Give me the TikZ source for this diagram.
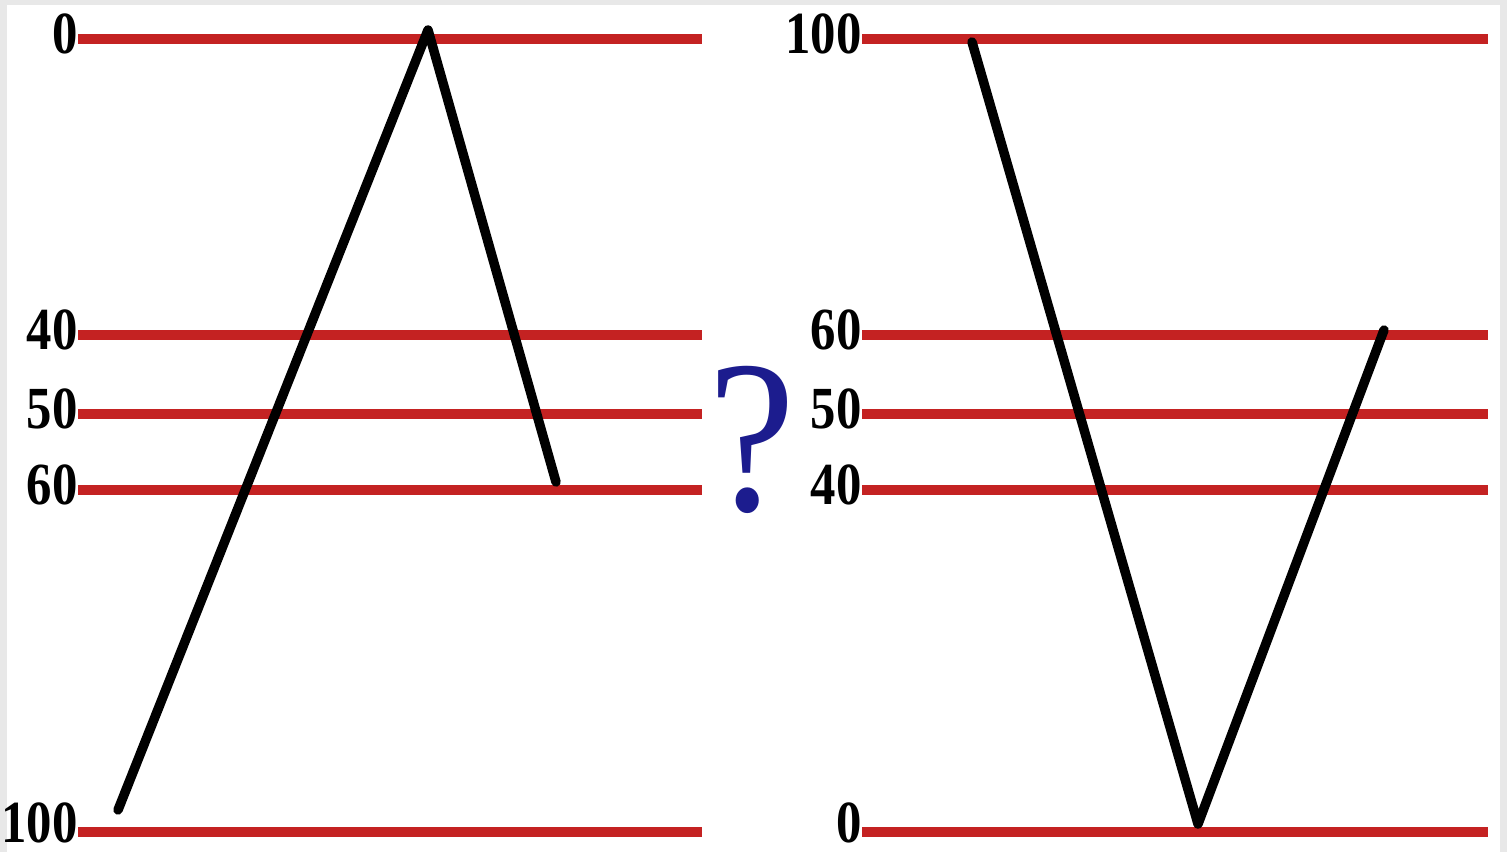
\documentclass[tikz,border=0pt]{standalone}
\usepackage{fontspec}
\setmainfont{Liberation Serif}
\usetikzlibrary{positioning}
\definecolor{barred}{HTML}{C42222}
\definecolor{qblue}{HTML}{1C1C8E}

\begin{document}
\begin{tikzpicture}[x=0.02cm, y=-0.02cm,
	every node/.style={inner sep=0pt},
	level/.style={draw=barred, line width=0.19cm},
	tick/.style={font=\fontsize{34}{34}\selectfont\bfseries, xscale=0.85, anchor=east},
	path/.style={draw=black, line width=0.19cm, line cap=round, line join=round}]
	% frame
	\fill[gray!18] (0,0) rectangle (1507,852);
	\fill[white] (7,5) rectangle (1500,852);
	\useasboundingbox (0,0) rectangle (1507,852);
	% left panel
	\foreach \y/\t/\s [count=\i] in {39/0/5, 335/40/5, 414/50/5, 490/60/5, 832/100/9} {
		\node[tick] (L\i) at (78,\y-\s) {\t};
		\coordinate (LE\i) at (702,\y);
		\draw[level] (L\i.east |- LE\i) -- (LE\i);
	}
	% right panel
	\foreach \y/\t/\s [count=\i] in {39/100/5, 335/60/5, 414/50/5, 490/40/5, 832/0/9} {
		\node[tick] (R\i) at (862,\y-\s) {\t};
		\coordinate (RE\i) at (1488,\y);
		\draw[level] (R\i.east |- RE\i) -- (RE\i);
	}
	\node[text=qblue, font=\fontsize{124}{124}\selectfont, xscale=0.9] (q) at (752,440) {?};
	% zigzags
	\coordinate (a1) at (118,810);
	\coordinate (a2) at (428,30);
	\coordinate (a3) at (556,482);
	\draw[path] (a1) -- (a2) -- (a3);
	\coordinate (b1) at (972,42);
	\coordinate (b2) at (1198,824);
	\coordinate (b3) at (1384,330);
	\draw[path] (b1) -- (b2) -- (b3);
\end{tikzpicture}
\end{document}
